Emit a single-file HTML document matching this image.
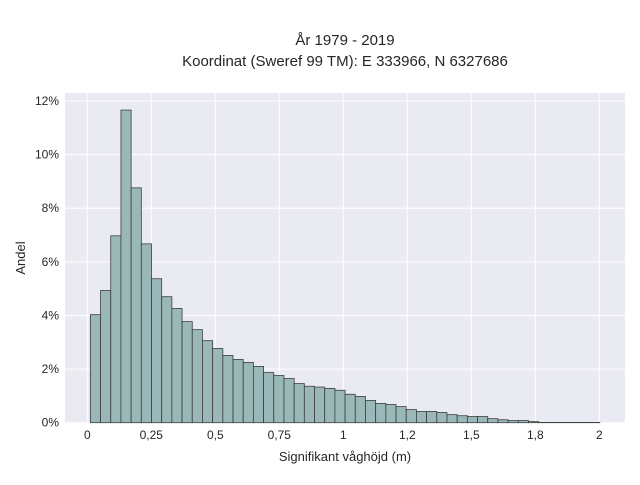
<!DOCTYPE html>
<html><head><meta charset="utf-8"><style>
body{margin:0;background:#fff;}
svg text{font-family:"Liberation Sans",sans-serif;fill:#262626;}
</style></head><body>
<svg width="640" height="480" id="c">
<text x="345" y="45" font-size="15" text-anchor="middle">År 1979 - 2019</text>
<text x="345" y="66" font-size="15" text-anchor="middle">Koordinat (Sweref 99 TM): E 333966, N 6327686</text>
<rect x="65" y="93" width="560" height="330" fill="#eaeaf2"/>
<g id="grid"></g><g id="bars"></g><g id="ticks"></g>
<text x="345" y="461" font-size="13" text-anchor="middle">Signifikant våghöjd (m)</text>
<text x="25" y="258" font-size="13" text-anchor="middle" transform="rotate(-90 25 258)">Andel</text>
</svg>
<script>
const binStart = 0.012;
const binWidth = 0.0398;
const values = [4.03,4.93,6.97,11.66,8.76,6.67,5.37,4.70,4.26,3.77,3.47,3.06,2.77,2.51,2.36,2.25,2.10,1.87,1.76,1.65,1.46,1.36,1.33,1.28,1.21,1.06,0.98,0.83,0.72,0.68,0.60,0.49,0.42,0.42,0.38,0.30,0.26,0.23,0.23,0.15,0.11,0.08,0.08,0.04,0.01,0.01,0.01,0.01,0.01,0.01];
const xTicks = [0,0.25,0.5,0.75,1,1.25,1.5,1.75,2];
const xTickLabels = ["0","0,25","0,5","0,75","1","1,2","1,5","1,8","2"];
const yTicks = [0,2,4,6,8,10,12];
const yTickLabels = ["0%","2%","4%","6%","8%","10%","12%"];
const NS="http://www.w3.org/2000/svg";
const xs=v=>87.3+v*256, ys=v=>422.7-v*26.81;
const grid=document.getElementById('grid'),bars=document.getElementById('bars'),ticks=document.getElementById('ticks');
function mk(tag,attrs,parent){const e=document.createElementNS(NS,tag);for(const k in attrs)e.setAttribute(k,attrs[k]);parent.appendChild(e);return e;}
xTicks.forEach((t,i)=>{
  const l=mk('line',{x1:xs(t),x2:xs(t),y1:93,y2:423,stroke:'#fff','stroke-width':1},grid);
  
  
  const tx=mk('text',{x:xs(t),y:439,'font-size':12,'text-anchor':'middle'},ticks);
  tx.textContent=xTickLabels[i];
  
  
});
yTicks.forEach((t,i)=>{
  const l=mk('line',{x1:65,x2:625,y1:ys(t),y2:ys(t),stroke:'#fff','stroke-width':1},grid);
  
  
  const tx=mk('text',{x:59,y:ys(t)+4,'font-size':12,'text-anchor':'end'},ticks);
  tx.textContent=yTickLabels[i];
  
  
});
values.forEach((v,i)=>{
  const x0=xs(binStart+i*binWidth),x1=xs(binStart+(i+1)*binWidth);
  const r=mk('rect',{x:x0,y:ys(v),width:x1-x0,height:ys(0)-ys(v),fill:'#9bb8b8',stroke:'#3a3f3f','stroke-width':0.8},bars);
  
  
});
</script>
</body></html>
